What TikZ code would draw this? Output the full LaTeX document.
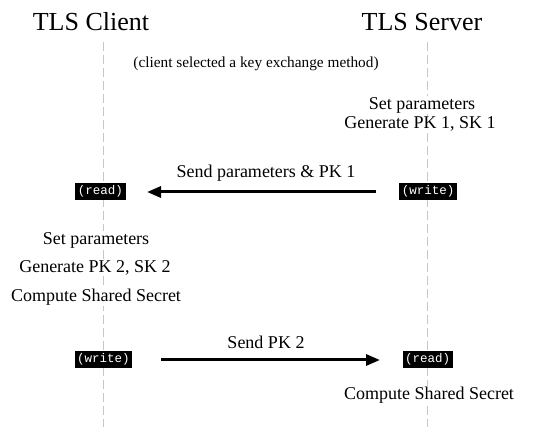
\documentclass[tikz,border=0pt]{standalone}
\usepackage{fontspec}
\setmainfont{Liberation Serif}
\setmonofont{Liberation Mono}
\usetikzlibrary{arrows.meta}
\begin{document}
\begin{tikzpicture}[x=1pt,y=-1pt,
  lifeline/.style={draw=black!22,line width=1pt,dash pattern=on 9pt off 4pt},
  title/.style={font=\fontsize{26}{28}\selectfont,inner sep=0pt},
  lbl/.style={font=\fontsize{18}{20}\selectfont,inner sep=1pt,fill=white},
  msglbl/.style={font=\fontsize{18}{20}\selectfont,inner sep=0pt},
  note/.style={font=\fontsize{15.3}{17}\selectfont,inner sep=0pt},
  io/.style={fill=black,text=white,font=\ttfamily\fontsize{12.5}{14}\selectfont,inner xsep=2.5pt,inner ysep=3pt,text height=8.5pt,text depth=2.5pt},
  msg/.style={line width=3pt,-{Triangle[length=14pt,width=11pt]}}]
\useasboundingbox (0,0) rectangle (549,427);
% titles
\node[title] (tc) at (91,22) {TLS Client};
\node[title] (ts) at (422,22) {TLS Server};
% lifelines
\coordinate (ctop) at (103,42);
\coordinate (cbot) at (103,427);
\coordinate (stop) at (427,42);
\coordinate (sbot) at (427,427);
\draw[lifeline] (ctop) -- (cbot);
\draw[lifeline] (stop) -- (sbot);
% note
\node[note] (nt) at (256,64) {(client selected a key exchange method)};
% server steps
\node[lbl] (s1) at (422,105) {Set parameters};
\node[lbl] (s2) at (420,124) {Generate PK 1, SK 1};
% message 1
\node[io] (r1) at (100.5,192) {(read)};
\node[io] (w1) at (428,192) {(write)};
\coordinate (m1s) at (376,192);
\coordinate (m1e) at (147,192);
\draw[msg] (m1s) -- (m1e);
\node[msglbl] (l1) at (266,173) {Send parameters \& PK 1};
% client steps
\node[lbl] (c1) at (96,240) {Set parameters};
\node[lbl] (c2) at (95,268) {Generate PK 2, SK 2};
\node[lbl] (c3) at (96,297) {Compute Shared Secret};
% message 2
\node[io] (w2) at (103.5,360) {(write)};
\node[io] (r2) at (427.5,360) {(read)};
\coordinate (m2s) at (161,360);
\coordinate (m2e) at (380,360);
\draw[msg] (m2s) -- (m2e);
\node[msglbl] (l2) at (266,342) {Send PK 2};
% server final
\node[lbl] (s3) at (429,395) {Compute Shared Secret};
\end{tikzpicture}
\end{document}
